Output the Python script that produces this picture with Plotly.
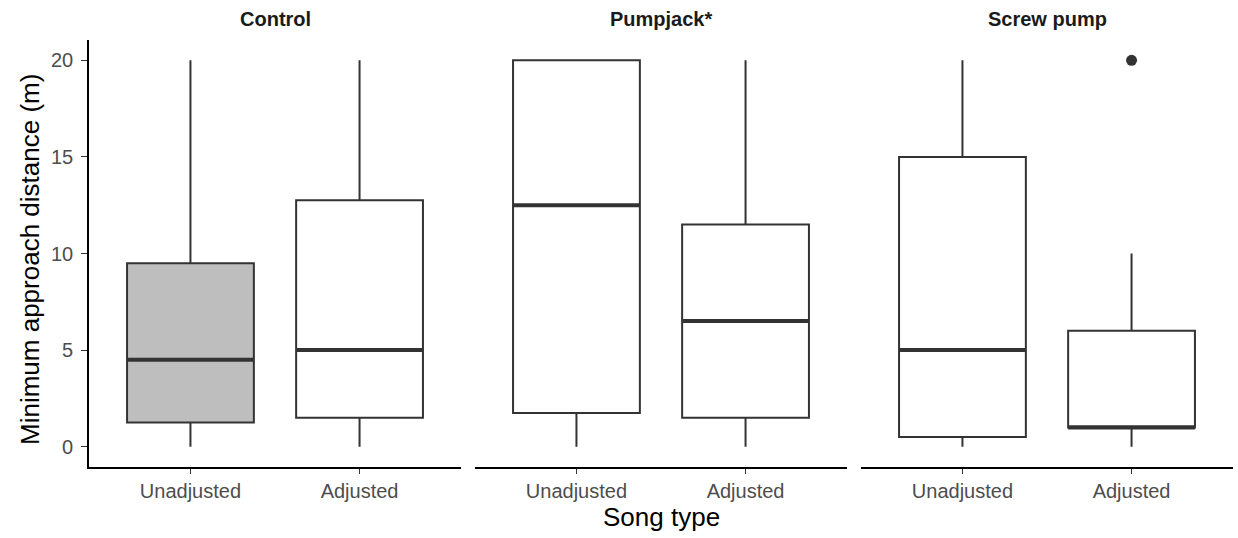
import plotly.graph_objects as go

panels = ["Control", "Pumpjack*", "Screw pump"]
song_types = ["Unadjusted", "Adjusted"]
# box statistics per panel: [Unadjusted, Adjusted]
lower = [[0, 0], [0, 0], [0, 0]]
q1 = [[1.25, 1.5], [1.75, 1.5], [0.5, 1.0]]
median = [[4.5, 5.0], [12.5, 6.5], [5.0, 1.0]]
q3 = [[9.5, 12.75], [20.0, 11.5], [15.0, 6.0]]
upper = [[20, 20], [20, 20], [20, 10]]
fills = [["#BEBEBE", "#FFFFFF"], ["#FFFFFF", "#FFFFFF"], ["#FFFFFF", "#FFFFFF"]]
outlier_panel = [2]
outlier_type = [1]
outlier_value = [20]

y_ticks = [0, 5, 10, 15, 20]
box_width = 0.75

W, H = 1238, 538
ml, mr, mt, mb = 89, 5, 40, 71
pw = W - ml - mr
ph = H - mt - mb
px_ranges = [(89, 461), (475, 847), (861, 1233)]
domains = [[(a - ml) / pw, (b - ml) / pw] for a, b in px_ranges]

fig = go.Figure()
line_col = "#333333"
for p in range(3):
    xa = "x" if p == 0 else f"x{p+1}"
    ya = "y" if p == 0 else f"y{p+1}"
    for i in range(2):
        pos = i + 1
        fig.add_trace(go.Box(
            x=[pos], q1=[q1[p][i]], median=[median[p][i]], q3=[q3[p][i]],
            lowerfence=[lower[p][i]], upperfence=[upper[p][i]],
            width=box_width, whiskerwidth=0, fillcolor=fills[p][i],
            line=dict(color=line_col, width=2), boxpoints=False,
            xaxis=xa, yaxis=ya, showlegend=False, hoverinfo="skip"))
        fig.add_trace(go.Scatter(
            x=[pos - box_width / 2, pos + box_width / 2],
            y=[median[p][i], median[p][i]], mode="lines",
            line=dict(color=line_col, width=4), xaxis=xa, yaxis=ya,
            showlegend=False, hoverinfo="skip"))
for k in range(len(outlier_value)):
    p = outlier_panel[k]
    xa = "x" if p == 0 else f"x{p+1}"
    ya = "y" if p == 0 else f"y{p+1}"
    fig.add_trace(go.Scatter(
        x=[outlier_type[k] + 1], y=[outlier_value[k]], mode="markers",
        marker=dict(color=line_col, size=11), xaxis=xa, yaxis=ya,
        showlegend=False, hoverinfo="skip"))

font_family = "Liberation Sans, Arial, sans-serif"
layout = dict(
    width=W, height=H, margin=dict(l=ml, r=mr, t=mt, b=mb, autoexpand=False),
    plot_bgcolor="white", paper_bgcolor="white",
    font=dict(family=font_family), showlegend=False,
)
for p in range(3):
    xk = "xaxis" if p == 0 else f"xaxis{p+1}"
    yk = "yaxis" if p == 0 else f"yaxis{p+1}"
    layout[xk] = dict(
        domain=domains[p], range=[0.4, 2.6], tickvals=[1, 2], ticktext=song_types,
        showgrid=False, zeroline=False, showline=True, linecolor="black", linewidth=1.6,
        ticks="outside", ticklen=5, tickcolor=line_col, tickwidth=1.2,
        tickfont=dict(size=20, color="#4D4D4D"), automargin=False,
        anchor="y" if p == 0 else f"y{p+1}")
    layout[yk] = dict(
        domain=[0, 1], range=[-1.05, 21.05], tickvals=y_ticks,
        showgrid=False, zeroline=False,
        showline=(p == 0), linecolor="black", linewidth=1.6,
        ticks="outside" if p == 0 else "", ticklen=6, tickcolor=line_col, tickwidth=1.2,
        showticklabels=(p == 0), tickfont=dict(size=20, color="#4D4D4D"),
        ticklabelstandoff=4, automargin=False,
        anchor="x" if p == 0 else f"x{p+1}",
        matches=None if p == 0 else "y")
fig.update_layout(**layout)

annotations = []
for p in range(3):
    cx = (px_ranges[p][0] + px_ranges[p][1]) / 2
    annotations.append(dict(
        text=f"<b>{panels[p]}</b>", x=(cx - ml) / pw, y=(H - mb - 19) / ph,
        xref="paper", yref="paper", xanchor="center", yanchor="middle",
        showarrow=False, font=dict(size=20, color="#1A1A1A")))
annotations.append(dict(
    text="Minimum approach distance (m)", x=(30 - ml) / pw, y=(H - mb - 260) / ph,
    textangle=-90,
    xref="paper", yref="paper", xanchor="center", yanchor="middle",
    showarrow=False, font=dict(size=26, color="black")))
annotations.append(dict(
    text="Song type", x=(661 - ml) / pw, y=(H - mb - 517) / ph,
    xref="paper", yref="paper", xanchor="center", yanchor="middle",
    showarrow=False, font=dict(size=26, color="black")))
fig.update_layout(annotations=annotations)

fig.write_html("out.html", config={"displayModeBar": False},
               post_script="document.body.style.margin='0';document.body.style.padding='0';")
